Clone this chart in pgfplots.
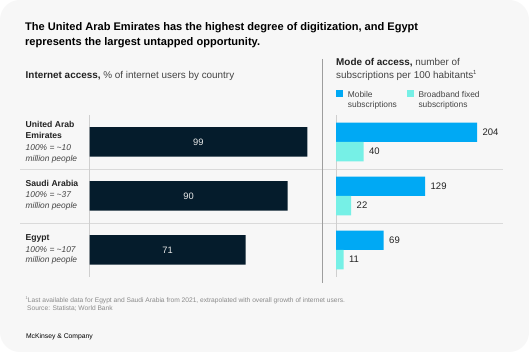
\documentclass[border=0pt]{standalone}
\usepackage{fontspec}
\setmainfont{Liberation Sans}
\usepackage{pgfplots}
\pgfplotsset{compat=1.18}
\definecolor{navy}{HTML}{051C2C}
\definecolor{mobile}{HTML}{00A9F4}
\definecolor{broad}{HTML}{76F0E6}
\definecolor{cardbg}{HTML}{F7F7F7}
\definecolor{sep}{HTML}{DADADA}
\definecolor{divc}{HTML}{9E9E9E}
\definecolor{axc}{HTML}{CFCFCF}
\definecolor{txt}{HTML}{222222}
\definecolor{subt}{HTML}{444444}
\definecolor{foot}{HTML}{8A8A8A}
\newcommand{\fnmark}[1]{\raisebox{0.9ex}{\scalebox{0.6}{#1}}}
\begin{document}
\begin{tikzpicture}[x=1pt,y=1pt]
\fill[white] (0,0) rectangle (529,352);
\fill[cardbg, rounded corners=20pt] (0,0) rectangle (529,352);
\useasboundingbox (0,0) rectangle (529,352);
% title
\node[anchor=base west, inner sep=0pt, font=\fontsize{11.05}{13}\selectfont\bfseries, text=black] at (25,321) {The United Arab Emirates has the highest degree of digitization, and Egypt};
\node[anchor=base west, inner sep=0pt, font=\fontsize{11.05}{13}\selectfont\bfseries, text=black] at (25,306.5) {represents the largest untapped opportunity.};
% subtitles
\node[anchor=base west, inner sep=0pt, font=\fontsize{9.9}{11}\selectfont, text=subt] at (25.5,273) {\textbf{\color{txt}Internet access,} \% of internet users by country};
\node[anchor=base west, inner sep=0pt, font=\fontsize{9.9}{11}\selectfont, text=subt] at (336,286) {\textbf{\color{txt}Mode of access,} number of};
\node[anchor=base west, inner sep=0pt, font=\fontsize{9.9}{11}\selectfont, text=subt] at (336,273) {subscriptions per 100 habitants\fnmark{1}};
% legend
\fill[mobile] (336,254.5) rectangle (343.3,261.5);
\node[anchor=base west, inner sep=0pt, font=\fontsize{8.4}{9}\selectfont, text=subt] at (347.7,254.7) {Mobile};
\node[anchor=base west, inner sep=0pt, font=\fontsize{8.4}{9}\selectfont, text=subt] at (347.7,244) {subscriptions};
\fill[broad] (407.3,254.5) rectangle (414.3,261.5);
\node[anchor=base west, inner sep=0pt, font=\fontsize{8.4}{9}\selectfont, text=subt] at (418.3,254.7) {Broadband fixed};
\node[anchor=base west, inner sep=0pt, font=\fontsize{8.4}{9}\selectfont, text=subt] at (418.3,244) {subscriptions};
% separators and divider
\draw[sep, line width=0.6pt] (20,182.7) -- (503,182.7);
\draw[sep, line width=0.6pt] (20,128.7) -- (503,128.7);
\draw[divc, line width=0.6pt] (322,293) -- (322,69);
% country labels
\tikzset{cb/.style={anchor=base west, inner sep=0pt, font=\fontsize{8.6}{9}\selectfont\bfseries, text=txt},
         ci/.style={anchor=base west, inner sep=0pt, font=\fontsize{8.4}{9}\selectfont\itshape, text=subt}}
\node[cb] at (25.5,224) {United Arab};
\node[cb] at (25.5,213) {Emirates};
\node[ci] at (25.5,201) {100\% = \textasciitilde10};
\node[ci] at (25.5,190) {million people};
\node[cb] at (25.5,165) {Saudi Arabia};
\node[ci] at (25.5,154) {100\% = \textasciitilde37};
\node[ci] at (25.5,143) {million people};
\node[cb] at (25.5,111) {Egypt};
\node[ci] at (25.5,99.5) {100\% = \textasciitilde107};
\node[ci] at (25.5,89) {million people};
% footnote
\node[anchor=base west, inner sep=0pt, font=\fontsize{6.65}{7}\selectfont, text=foot] at (25.5,49.5) {\fnmark{1}Last available data for Egypt and Saudi Arabia from 2021, extrapolated with overall growth of internet users.};
\node[anchor=base west, inner sep=0pt, font=\fontsize{6.65}{7}\selectfont, text=foot] at (27,41.3) {Source: Statista; World Bank};
\node[anchor=base west, inner sep=0pt, font=\fontsize{6.8}{8}\selectfont, text=black] at (25.8,13.7) {McKinsey \& Company};
% left axis
\begin{axis}[
  at={(89.5pt,75pt)}, anchor=south west, scale only axis,
  width=220pt, height=162pt,
  xmin=0, xmax=100, ymin=-0.5, ymax=2.5,
  xbar, bar width=29.5pt,
  axis x line=none, axis y line=left,
  y axis line style={draw=axc, line width=0.6pt, -},
  ytick=\empty, xtick=\empty,
  /pgf/number format/assume math mode=true,
  nodes near coords,
  visualization depends on={rawx \as \rawx},
  every node near coord/.append style={anchor=center, xshift={-1.1*\rawx}, text=white!92!black, font=\fontsize{9.3}{10}\selectfont},
  clip=false,
]
\addplot[fill=navy, draw=none] coordinates {(99,2) (90,1) (71,0)};
\end{axis}
% right axis
\begin{axis}[
  at={(336pt,75pt)}, anchor=south west, scale only axis,
  width=165.9pt, height=162pt,
  xmin=0, xmax=240, ymin=-0.5, ymax=2.5,
  xbar, bar width=19.3pt,
  axis x line=none, axis y line=left,
  y axis line style={draw=axc, line width=0.6pt, -},
  ytick=\empty, xtick=\empty,
  /pgf/number format/assume math mode=true,
  nodes near coords,
  every node near coord/.append style={anchor=west, xshift=2pt, text=txt, font=\fontsize{9.5}{10}\selectfont},
  clip=false,
]
\addplot[fill=mobile, draw=none, bar shift=9.65pt] coordinates {(204,2) (129,1) (69,0)};
\addplot[fill=broad, draw=none, bar shift=-9.65pt] coordinates {(40,2) (22,1) (11,0)};
\end{axis}
\end{tikzpicture}
\end{document}
